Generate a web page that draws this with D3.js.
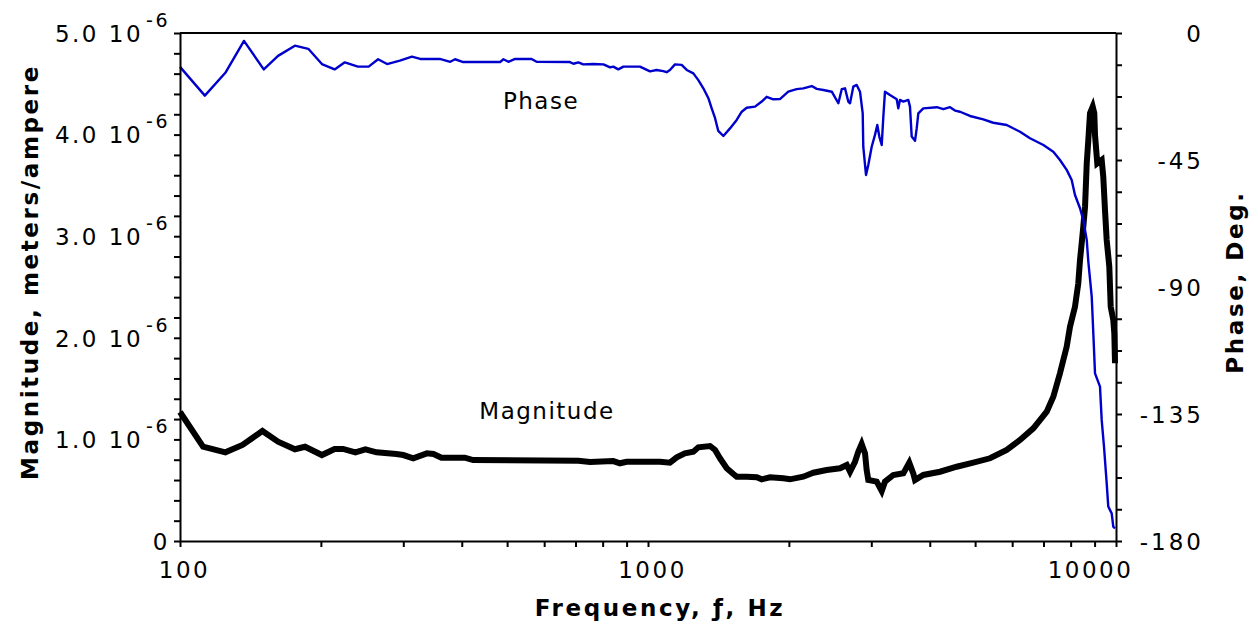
<!DOCTYPE html>
<html>
<head>
<meta charset="utf-8">
<script src="https://cdn.jsdelivr.net/npm/d3@7"></script>
<style>
  html, body { margin: 0; padding: 0; background: #fff; }
  svg { display: block; font-family: "DejaVu Sans", Verdana, sans-serif; }
</style>
</head>
<body>
<svg id="chart" width="1258" height="630"></svg>
<script>
// ---- Data ----
// Phase series: frequency (Hz) and phase (degrees)
const phaseFreq = [100,113,125,137,151,162,176,188,201,214,225,240,253,265,277,295,313,326,359,378,387,403,483,491,503,520,564,578,681,693,710,727,764,803,830,843,864,886,961,1010,1043,1078,1096,1114,1142,1180,1210,1250,1281,1313,1346,1368,1391,1413,1449,1497,1547,1586,1625,1693,1750,1793,1852,1914,1994,2078,2147,2238,2294,2370,2470,2551,2594,2636,2679,2702,2746,2792,2838,2876,2884,2923,2956,3006,3055,3090,3121,3158,3183,3209,3289,3400,3426,3455,3512,3599,3629,3660,3720,3751,3781,3875,4141,4276,4419,4529,4642,4875,5205,5467,5841,6236,6550,6995,7346,7591,7846,8041,8173,8377,8514,8659,8727,8874,8944,9019,9243,9320,9427,9552,9627,9790,9867,9952];
const phaseDeg = [-12.0,-22.2,-14.1,-2.8,-12.9,-8.1,-4.5,-5.6,-11.0,-12.9,-10.4,-11.9,-11.9,-9.3,-11.0,-9.8,-8.4,-9.2,-9.2,-10.2,-9.3,-10.3,-10.3,-9.3,-10.2,-9.2,-9.2,-10.2,-10.3,-10.9,-10.4,-11.1,-11.0,-11.1,-12.2,-11.9,-12.9,-11.9,-11.9,-13.6,-13.1,-13.5,-13.9,-13.1,-11.1,-11.3,-13.1,-14.3,-16.7,-19.6,-23.1,-26.7,-30.2,-34.7,-36.5,-33.8,-30.8,-27.9,-26.5,-26.1,-24.3,-22.6,-23.5,-23.4,-20.8,-19.9,-19.6,-18.8,-19.8,-20.2,-20.8,-24.9,-19.9,-19.6,-24.3,-24.9,-19.0,-18.4,-20.8,-28.5,-40.3,-50.3,-46.8,-40.3,-36.1,-32.6,-36.7,-39.7,-29.7,-20.8,-22.0,-23.5,-26.7,-23.7,-24.3,-23.7,-26.1,-36.7,-38.2,-33.8,-28.5,-26.7,-26.3,-27.0,-26.3,-27.5,-27.9,-29.4,-30.6,-31.8,-32.6,-35.0,-37.3,-39.7,-42.1,-45.0,-48.5,-52.1,-57.4,-62.1,-66.3,-73.3,-81.0,-93.4,-106.4,-120.6,-125.3,-137.1,-146.6,-159.5,-167.8,-170.2,-174.9,-175.5];

// Magnitude series: frequency (Hz) and magnitude (x 1e-6 meters/ampere)
const magFreq = [100,112,125,136,150,162,176,185,201,214,223,237,249,263,290,300,315,337,348,362,406,423,710,752,843,871,900,1061,1114,1152,1199,1250,1281,1357,1391,1425,1473,1522,1547,1625,1708,1750,1823,1946,2011,2147,2256,2409,2572,2659,2702,2769,2814,2861,2909,2932,2956,3081,3158,3209,3343,3512,3616,3688,3720,3875,4207,4566,4956,5380,5841,6236,6658,7112,7346,7591,7846,7975,8173,8306,8377,8447,8514,8587,8659,8727,8800,8917,8987,9019,9120,9320,9393,9473,9552,9676,9743,9867,9917,9952];
const magnitude = [1.27,0.928,0.873,0.945,1.083,0.977,0.903,0.928,0.846,0.906,0.906,0.873,0.903,0.873,0.856,0.846,0.814,0.863,0.856,0.820,0.820,0.797,0.790,0.778,0.787,0.765,0.780,0.780,0.771,0.824,0.863,0.879,0.922,0.935,0.896,0.814,0.716,0.659,0.633,0.633,0.627,0.607,0.627,0.617,0.607,0.633,0.672,0.699,0.716,0.748,0.682,0.780,0.879,0.955,0.863,0.699,0.600,0.584,0.492,0.584,0.650,0.666,0.771,0.666,0.600,0.650,0.682,0.731,0.771,0.814,0.896,0.994,1.109,1.273,1.420,1.651,1.912,2.109,2.306,2.536,2.766,2.930,3.094,3.290,3.717,3.947,4.210,4.275,4.210,3.996,3.717,3.750,3.586,3.258,2.963,2.700,2.306,2.175,2.044,1.749];

// Tick labels
const freqTicks = [100, 1000, 10000];
const freqTickLabels = ["100", "1000", "10000"];
const magTicks = [0, 1, 2, 3, 4, 5];
const magTickLabels = ["0", "1.0", "2.0", "3.0", "4.0", "5.0"];
const magExponent = "-6";
const phaseTicks = [0, -45, -90, -135, -180];
const phaseTickLabels = ["0", "-45", "-90", "-135", "-180"];

// ---- Layout ----
const svg = d3.select("#chart");
const L = 180, R = 1116, T = 33, B = 541;
const FONT = "'DejaVu Sans', Verdana, sans-serif";

const x = d3.scaleLog().domain([100, 10000]).range([L, R]);
const yMag = d3.scaleLinear().domain([0, 5]).range([B, T]);
const yPh = d3.scaleLinear().domain([-180, 0]).range([B, T]);

// Minor tick values
const xMinor = [];
[100, 1000].forEach(dec => { for (let k = 2; k <= 9; k++) xMinor.push(dec * k); });
const magMinor = d3.range(0, 26).map(i => i * 0.2).filter(v => Math.abs(v - Math.round(v)) > 1e-6);
const phMinor = d3.range(0, 17).map(i => -i * 11.25).filter(v => Math.abs(v / 45 - Math.round(v / 45)) > 1e-6);

// ---- Lines ----
const magLine = d3.line().x((d, i) => x(magFreq[i])).y(d => yMag(d));
const phLine = d3.line().x((d, i) => x(phaseFreq[i])).y(d => yPh(d));

svg.append("path").attr("d", magLine(magnitude))
  .attr("fill", "none").attr("stroke", "#000").attr("stroke-width", 6)
  .attr("stroke-linejoin", "miter").attr("stroke-linecap", "butt");
svg.append("path").attr("d", phLine(phaseDeg))
  .attr("fill", "none").attr("stroke", "#0000cc").attr("stroke-width", 2.4)
  .attr("stroke-linejoin", "round");

// ---- Frame: top line ----
svg.append("line").attr("x1", L).attr("x2", R).attr("y1", T).attr("y2", T)
  .attr("stroke", "#000").attr("stroke-width", 2);

function styleAxis(g) {
  g.select(".domain").attr("stroke", "#000").attr("stroke-width", 2);
  g.selectAll(".tick line").attr("stroke", "#000").attr("stroke-width", 2);
}

// Bottom axis
const gx = svg.append("g").attr("transform", `translate(0,${B})`)
  .call(d3.axisBottom(x).tickValues(freqTicks.concat(xMinor)).tickSize(6).tickSizeOuter(0)
    .tickFormat(d => { const i = freqTicks.indexOf(d); return i >= 0 ? freqTickLabels[i] : ""; }));
styleAxis(gx);
gx.selectAll(".tick text").attr("font-family", FONT).attr("font-size", 23)
  .attr("letter-spacing", 2.5).attr("fill", "#000").attr("y", 21)
  .attr("dx", d => d === 10000 ? -26 : 4);

// Left axis
const gy = svg.append("g").attr("transform", `translate(${L},0)`)
  .call(d3.axisLeft(yMag).tickValues(magTicks.concat(magMinor)).tickSize(6).tickSizeOuter(0)
    .tickFormat(() => ""));
styleAxis(gy);
gy.selectAll(".tick").each(function (d) {
  const i = magTicks.indexOf(d);
  if (i < 0) return;
  const t = d3.select(this).select("text")
    .attr("font-family", FONT).attr("font-size", 23).attr("letter-spacing", 2.5)
    .attr("fill", "#000").attr("x", -10).attr("dy", "0.36em").attr("text-anchor", "end");
  if (d === 0) { t.text(magTickLabels[i]); return; }
  t.append("tspan").text(magTickLabels[i] + " 10");
  t.append("tspan").attr("dy", -15).attr("dx", 3).attr("font-size", 19).text(magExponent);
});

// Right axis
const gr = svg.append("g").attr("transform", `translate(${R},0)`)
  .call(d3.axisRight(yPh).tickValues(phaseTicks.concat(phMinor)).tickSize(6).tickSizeOuter(0)
    .tickFormat(d => { const i = phaseTicks.indexOf(d); return i >= 0 ? phaseTickLabels[i] : ""; }));
styleAxis(gr);
gr.selectAll(".tick text").attr("font-family", FONT).attr("font-size", 23)
  .attr("letter-spacing", 3).attr("fill", "#000")
  .attr("x", 88).attr("text-anchor", "end").attr("dy", "0.36em");

// ---- Titles & labels ----
svg.append("text").attr("x", 660).attr("y", 616).attr("text-anchor", "middle")
  .attr("font-family", FONT).attr("font-size", 23).attr("font-weight", 600).attr("letter-spacing", 2.6)
  .text("Frequency, ƒ, Hz");
svg.append("text").attr("transform", "translate(38,272) rotate(-90)").attr("text-anchor", "middle")
  .attr("font-family", FONT).attr("font-size", 23).attr("font-weight", 600).attr("letter-spacing", 2.6)
  .text("Magnitude, meters/ampere");
svg.append("text").attr("transform", "translate(1243,282) rotate(-90)").attr("text-anchor", "middle")
  .attr("font-family", FONT).attr("font-size", 23).attr("font-weight", 600).attr("letter-spacing", 2.6)
  .text("Phase, Deg.");
svg.append("text").attr("x", 541).attr("y", 109).attr("text-anchor", "middle")
  .attr("font-family", FONT).attr("font-size", 23).attr("letter-spacing", 1.5).text("Phase");
svg.append("text").attr("x", 547).attr("y", 419).attr("text-anchor", "middle")
  .attr("font-family", FONT).attr("font-size", 23).attr("letter-spacing", 1.5).text("Magnitude");
</script>
</body>
</html>
